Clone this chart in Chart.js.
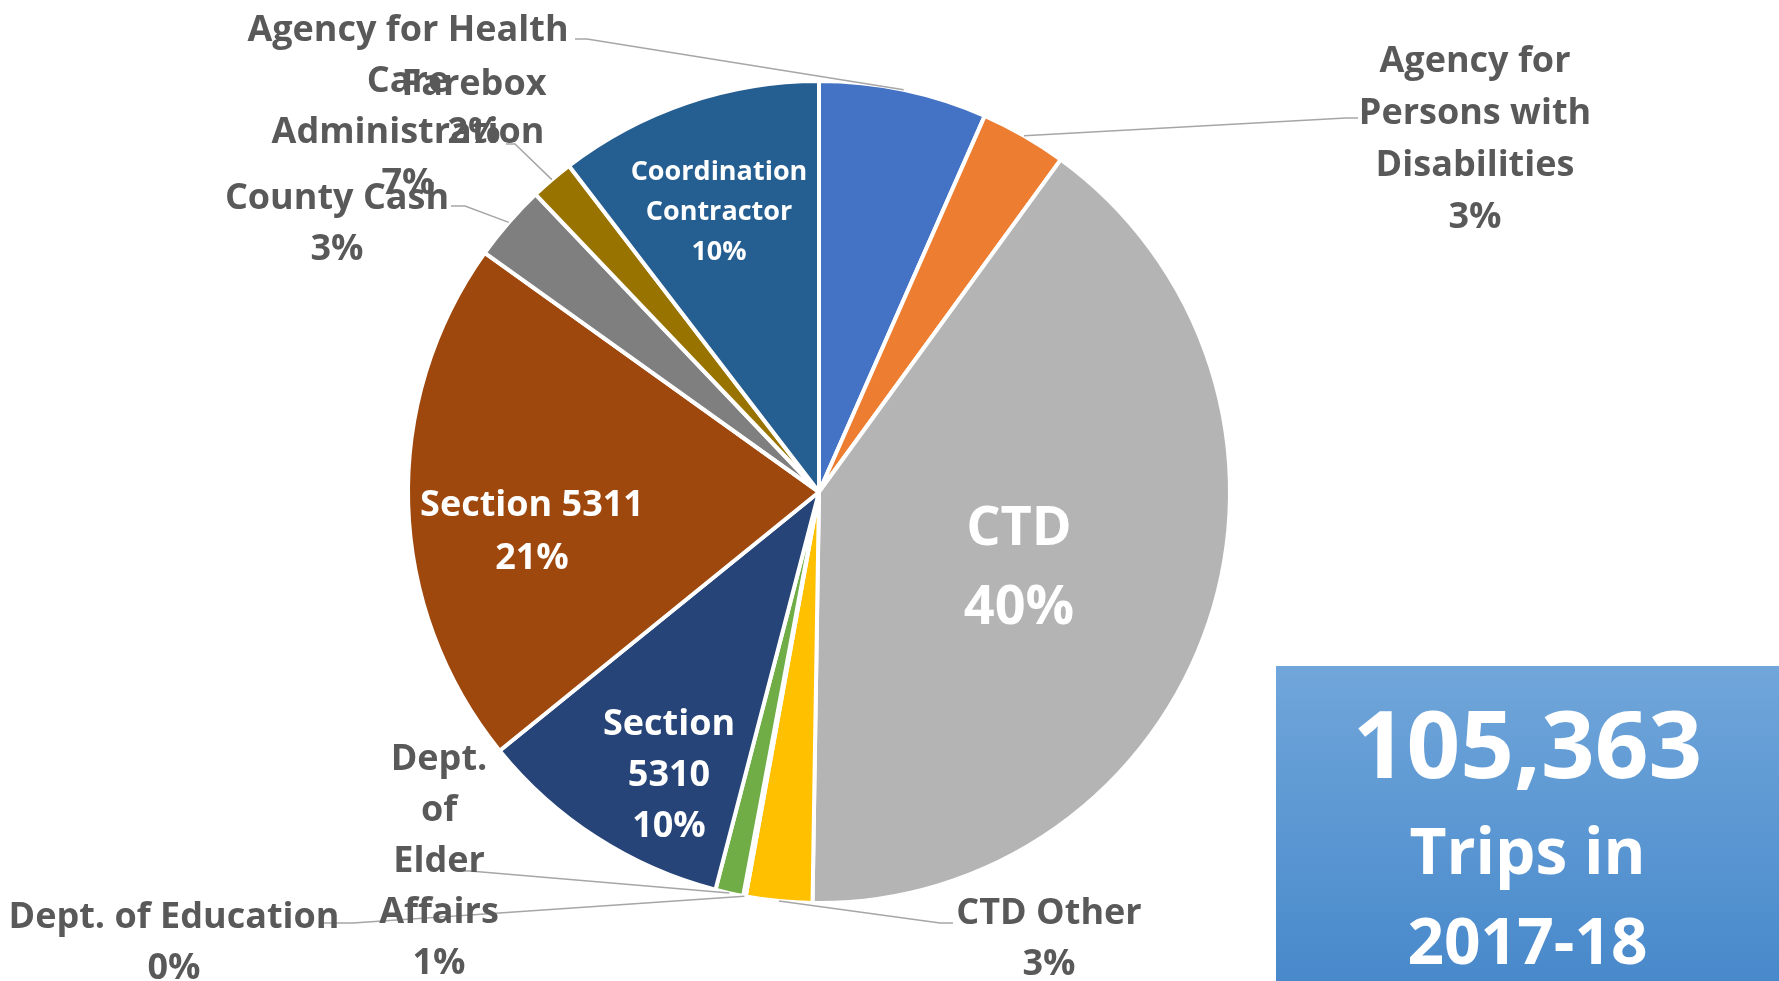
<!DOCTYPE html>
<html>
<head>
<meta charset="utf-8">
<script src="https://cdn.jsdelivr.net/npm/chart.js@4.4.1/dist/chart.umd.min.js"></script>
<style>
  body { margin: 0; background: #fff; }
  #wrap { position: relative; width: 1779px; height: 981px; overflow: hidden; }
  #tripBox {
    position: absolute; left: 1276px; top: 666px; width: 503px; height: 315px;
    background: linear-gradient(#70a6da, #4889cb);
    color: #fff; font-family: "Open Sans", sans-serif; font-weight: 700; text-align: center;
  }
  #tripBox div { position: absolute; left: 0; width: 100%; }
</style>
</head>
<body>
<div id="wrap">
  <canvas id="myChart" width="1779" height="981"></canvas>
  <div id="tripBox">
    <div style="top:16px;font-size:94px;line-height:120px;">105,363</div>
    <div style="top:144px;font-size:64px;line-height:80px;">Trips in</div>
    <div style="top:234px;font-size:64px;line-height:80px;">2017-18</div>
  </div>
</div>
<script>
// funding sources, clockwise from 12 o'clock
const sources = [
  "Agency for Health Care Administration",
  "Agency for Persons with Disabilities",
  "CTD",
  "CTD Other",
  "Dept. of Education",
  "Dept. of Elder Affairs",
  "Section 5310",
  "Section 5311",
  "County Cash",
  "Farebox",
  "Coordination Contractor"
];
// share of trips (%)
const shares = [6.6, 3.4, 40.2, 2.6, 0.1, 1.1, 10.1, 20.7, 3.0, 1.7, 10.4];
const sliceColors = ["#4472c4", "#ed7d31", "#b4b4b4", "#ffc000", "#5b9bd5", "#70ad47",
  "#264478", "#9e480e", "#7f7f7f", "#997300", "#255e91"];
// how each label is broken into lines (percent is added below)
const labelLines = [
  ["Agency for Health", "Care", "Administration"],
  ["Agency for", "Persons with", "Disabilities"],
  ["CTD"],
  ["CTD Other"],
  ["Dept. of Education"],
  ["Dept.", "of", "Elder", "Affairs"],
  ["Section", "5310"],
  ["Section 5311"],
  ["County Cash"],
  ["Farebox"],
  ["Coordination", "Contractor"]
];

const GREY = "#595959";
const WHITE = "#ffffff";
// label placement (x = centre, y = middle of first line, lh = line step)
const labelLayout = [
  { x: 408, y: 28, lh: 51, size: 36, color: GREY, leader: [[575, 39], [587, 39]] },
  { x: 1475, y: 59, lh: 52, size: 36, color: GREY, leader: [[1358, 118], [1346, 118]] },
  { x: 1019, y: 526, lh: 79, size: 54, color: WHITE },
  { x: 1049, y: 911, lh: 51, size: 36, color: GREY, leader: [[953, 923], [940, 923]] },
  { x: 174, y: 915, lh: 51, size: 36, color: GREY, leader: [[320, 923], [353, 923]] },
  { x: 439, y: 757, lh: 51, size: 36, color: GREY, leader: [[457, 871], [470, 871]] },
  { x: 669, y: 722, lh: 51, size: 36, color: WHITE },
  { x: 532, y: 503, lh: 53, size: 36, color: WHITE },
  { x: 337, y: 196, lh: 51, size: 36, color: GREY, leader: [[451, 206], [465, 206]] },
  { x: 474, y: 82, lh: 48, size: 36, color: GREY, leader: [[506, 144], [515, 144]] },
  { x: 719, y: 170, lh: 40, size: 27, color: WHITE }
];

const labelPlugin = {
  id: "sliceLabels",
  afterDatasetsDraw(chart) {
    const ctx = chart.ctx;
    const arcs = chart.getDatasetMeta(0).data;
    const total = shares.reduce((a, b) => a + b, 0);
    arcs.forEach((arc, i) => {
      const lay = labelLayout[i];
      const lines = labelLines[i].concat(Math.round(shares[i] / total * 100) + "%");
      ctx.save();
      if (lay.leader) {
        // leader goes to the middle of the slice's outer edge
        const p = arc.getProps(["x", "y", "startAngle", "endAngle", "outerRadius"], true);
        const mid = (p.startAngle + p.endAngle) / 2;
        ctx.strokeStyle = "#a6a6a6";
        ctx.lineWidth = 1.5;
        ctx.beginPath();
        ctx.moveTo(lay.leader[0][0], lay.leader[0][1]);
        ctx.lineTo(lay.leader[1][0], lay.leader[1][1]);
        ctx.lineTo(p.x + Math.cos(mid) * p.outerRadius, p.y + Math.sin(mid) * p.outerRadius);
        ctx.stroke();
      }
      ctx.fillStyle = lay.color;
      ctx.font = "bold " + lay.size + "px 'Open Sans', sans-serif";
      ctx.textAlign = "center";
      ctx.textBaseline = "alphabetic";
      lines.forEach((t, k) => {
        ctx.fillText(t, lay.x, lay.y + k * lay.lh + 0.357 * lay.size);
      });
      ctx.restore();
    });
  }
};

new Chart(document.getElementById("myChart").getContext("2d"), {
  type: "pie",
  data: {
    labels: sources,
    datasets: [{
      data: shares,
      backgroundColor: sliceColors,
      borderColor: "#ffffff",
      borderWidth: 4
    }]
  },
  options: {
    responsive: false,
    animation: false,
    layout: { padding: { left: 406, right: 547, top: 79, bottom: 76 } },
    plugins: { legend: { display: false }, tooltip: { enabled: false } }
  },
  plugins: [labelPlugin]
});
</script>
</body>
</html>
